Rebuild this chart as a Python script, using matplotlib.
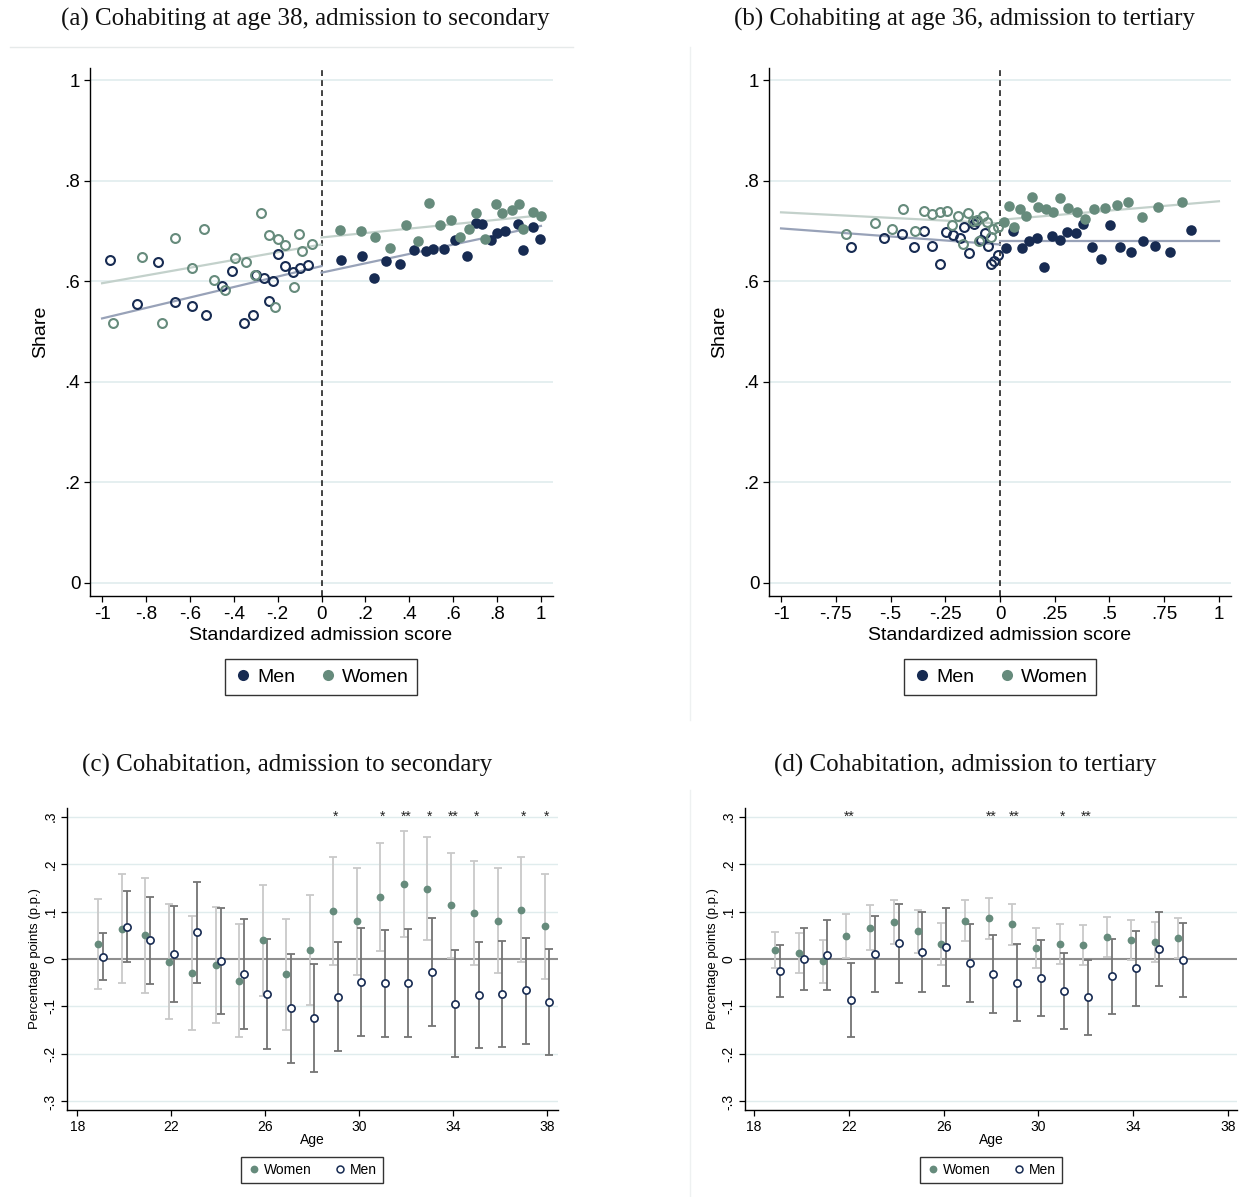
import matplotlib
matplotlib.use("Agg")
import matplotlib.pyplot as plt
from matplotlib.lines import Line2D
import numpy as np

# ---------------- data ----------------
# Panel (a): binned means, cohabiting at 38, secondary admission
a_women_left_x = [-0.948, -0.817, -0.726, -0.668, -0.591, -0.534, -0.491, -0.442, -0.392, -0.345,
                  -0.302, -0.275, -0.240, -0.213, -0.197, -0.167, -0.125, -0.102, -0.088, -0.043]
a_women_left_y = [0.516, 0.649, 0.516, 0.685, 0.627, 0.703, 0.602, 0.583, 0.647, 0.638,
                  0.612, 0.735, 0.692, 0.548, 0.683, 0.672, 0.589, 0.693, 0.660, 0.674]
a_men_left_x = [-0.963, -0.840, -0.743, -0.667, -0.588, -0.525, -0.452, -0.407, -0.351, -0.310,
                -0.298, -0.260, -0.238, -0.220, -0.197, -0.165, -0.129, -0.100, -0.061]
a_men_left_y = [0.642, 0.554, 0.638, 0.559, 0.551, 0.532, 0.590, 0.621, 0.516, 0.532,
                0.612, 0.607, 0.560, 0.600, 0.655, 0.631, 0.618, 0.626, 0.632]
a_women_right_x = [0.084, 0.181, 0.245, 0.310, 0.384, 0.442, 0.492, 0.538, 0.589, 0.629,
                   0.670, 0.705, 0.744, 0.793, 0.822, 0.869, 0.899, 0.917, 0.964, 0.999]
a_women_right_y = [0.702, 0.700, 0.688, 0.666, 0.711, 0.679, 0.755, 0.712, 0.721, 0.687,
                   0.704, 0.736, 0.684, 0.753, 0.736, 0.741, 0.753, 0.704, 0.738, 0.730]
a_men_right_x = [0.090, 0.184, 0.241, 0.293, 0.357, 0.421, 0.474, 0.507, 0.559, 0.609,
                 0.661, 0.705, 0.730, 0.773, 0.802, 0.838, 0.896, 0.917, 0.966, 0.998]
a_men_right_y = [0.642, 0.651, 0.606, 0.640, 0.634, 0.662, 0.661, 0.665, 0.664, 0.681,
                 0.651, 0.716, 0.714, 0.682, 0.696, 0.700, 0.713, 0.662, 0.708, 0.683]
# linear fits (intercept at cutoff, slope)
a_fit_women_left = (0.673, 0.077)
a_fit_men_left = (0.630, 0.104)
a_fit_women_right = (0.687, 0.044)
a_fit_men_right = (0.617, 0.093)

# Panel (b): cohabiting at 36, tertiary admission
b_women_left_x = [-0.703, -0.571, -0.495, -0.441, -0.388, -0.347, -0.309, -0.274, -0.244, -0.218,
                  -0.190, -0.167, -0.145, -0.122, -0.104, -0.094, -0.079, -0.058, -0.043, -0.030, -0.009]
b_women_left_y = [0.694, 0.716, 0.704, 0.743, 0.699, 0.739, 0.734, 0.737, 0.739, 0.712,
                  0.730, 0.674, 0.735, 0.719, 0.722, 0.679, 0.730, 0.717, 0.687, 0.704, 0.708]
b_men_left_x = [-0.682, -0.528, -0.449, -0.394, -0.348, -0.309, -0.275, -0.247, -0.213, -0.183,
                -0.163, -0.142, -0.120, -0.111, -0.088, -0.068, -0.053, -0.043, -0.027, -0.009]
b_men_left_y = [0.669, 0.685, 0.694, 0.669, 0.700, 0.671, 0.634, 0.698, 0.692, 0.686,
                0.708, 0.656, 0.714, 0.720, 0.681, 0.696, 0.671, 0.634, 0.641, 0.652]
b_women_right_x = [0.020, 0.041, 0.065, 0.091, 0.117, 0.145, 0.175, 0.209, 0.240, 0.274,
                   0.312, 0.350, 0.388, 0.431, 0.479, 0.536, 0.586, 0.650, 0.723, 0.831]
b_women_right_y = [0.717, 0.750, 0.708, 0.743, 0.730, 0.768, 0.747, 0.743, 0.738, 0.765,
                   0.745, 0.737, 0.724, 0.743, 0.745, 0.751, 0.757, 0.727, 0.748, 0.757]
b_men_right_x = [0.027, 0.061, 0.099, 0.134, 0.167, 0.201, 0.236, 0.274, 0.307, 0.347,
                 0.381, 0.419, 0.460, 0.502, 0.548, 0.597, 0.651, 0.709, 0.776, 0.871]
b_men_right_y = [0.666, 0.700, 0.667, 0.679, 0.685, 0.629, 0.690, 0.681, 0.698, 0.695,
                 0.714, 0.669, 0.645, 0.712, 0.669, 0.659, 0.679, 0.670, 0.658, 0.702]
b_fit_women_left = (0.715, -0.022)
b_fit_men_left = (0.673, -0.032)
b_fit_women_right = (0.722, 0.037)
b_fit_men_right = (0.679, 0.000)

# Panel (c): estimates by age, secondary
c_ages = [19, 20, 21, 22, 23, 24, 25, 26, 27, 28, 29, 30, 31, 32, 33, 34, 35, 36, 37, 38]
c_women = [0.032, 0.064, 0.050, -0.006, -0.030, -0.013, -0.046, 0.040, -0.032, 0.018,
           0.101, 0.079, 0.131, 0.158, 0.148, 0.114, 0.096, 0.081, 0.104, 0.069]
c_women_lo = [-0.064, -0.050, -0.071, -0.127, -0.150, -0.134, -0.165, -0.078, -0.149, -0.097,
              -0.013, -0.034, 0.017, 0.047, 0.039, 0.003, -0.013, -0.029, -0.007, -0.043]
c_women_hi = [0.127, 0.178, 0.171, 0.116, 0.090, 0.110, 0.073, 0.156, 0.085, 0.134,
              0.215, 0.192, 0.245, 0.270, 0.257, 0.224, 0.206, 0.192, 0.215, 0.180]
c_men = [0.005, 0.068, 0.039, 0.011, 0.056, -0.004, -0.032, -0.073, -0.103, -0.124,
         -0.079, -0.048, -0.051, -0.050, -0.028, -0.094, -0.076, -0.074, -0.066, -0.090]
c_men_lo = [-0.045, -0.007, -0.053, -0.090, -0.051, -0.116, -0.148, -0.189, -0.219, -0.238,
            -0.193, -0.162, -0.164, -0.164, -0.142, -0.207, -0.187, -0.186, -0.178, -0.202]
c_men_hi = [0.054, 0.143, 0.131, 0.112, 0.163, 0.108, 0.085, 0.043, 0.011, -0.010,
            0.036, 0.066, 0.062, 0.064, 0.086, 0.019, 0.036, 0.038, 0.045, 0.022]
c_star_ages = [29, 31, 32, 33, 34, 35, 37, 38]
c_star_labels = ["*", "*", "**", "*", "**", "*", "*", "*"]

# Panel (d): estimates by age, tertiary
d_ages = [19, 20, 21, 22, 23, 24, 25, 26, 27, 28, 29, 30, 31, 32, 33, 34, 35, 36]
d_women = [0.019, 0.012, -0.005, 0.049, 0.066, 0.078, 0.058, 0.031, 0.081, 0.086,
           0.073, 0.023, 0.032, 0.029, 0.046, 0.041, 0.036, 0.045]
d_women_lo = [-0.020, -0.030, -0.050, 0.003, 0.020, 0.031, 0.012, -0.013, 0.037, 0.043,
              0.030, -0.020, -0.010, -0.013, 0.005, -0.003, -0.007, 0.003]
d_women_hi = [0.057, 0.055, 0.041, 0.095, 0.113, 0.125, 0.104, 0.076, 0.125, 0.129,
              0.116, 0.066, 0.074, 0.071, 0.088, 0.083, 0.078, 0.087]
d_men = [-0.025, 0.001, 0.008, -0.086, 0.010, 0.033, 0.015, 0.026, -0.008, -0.031,
         -0.050, -0.040, -0.067, -0.081, -0.036, -0.020, 0.021, -0.003]
d_men_lo = [-0.080, -0.065, -0.065, -0.164, -0.070, -0.050, -0.069, -0.057, -0.091, -0.113,
            -0.131, -0.120, -0.147, -0.160, -0.115, -0.098, -0.057, -0.080]
d_men_hi = [0.029, 0.066, 0.083, -0.008, 0.091, 0.115, 0.099, 0.108, 0.074, 0.051,
            0.031, 0.041, 0.013, -0.002, 0.043, 0.060, 0.100, 0.076]
d_star_ages = [22, 28, 29, 31, 32]
d_star_labels = ["**", "**", "**", "*", "**"]

titles = ["(a) Cohabiting at age 38, admission to secondary",
          "(b) Cohabiting at age 36, admission to tertiary",
          "(c) Cohabitation, admission to secondary",
          "(d) Cohabitation, admission to tertiary"]
ab_xticks_a = [-1, -0.8, -0.6, -0.4, -0.2, 0, 0.2, 0.4, 0.6, 0.8, 1]
ab_xticklabels_a = ["-1", "-.8", "-.6", "-.4", "-.2", "0", ".2", ".4", ".6", ".8", "1"]
ab_xticks_b = [-1, -0.75, -0.5, -0.25, 0, 0.25, 0.5, 0.75, 1]
ab_xticklabels_b = ["-1", "-.75", "-.5", "-.25", "0", ".25", ".5", ".75", "1"]
ab_yticks = [0, 0.2, 0.4, 0.6, 0.8, 1]
ab_yticklabels = ["0", ".2", ".4", ".6", ".8", "1"]
cd_yticks = [-0.3, -0.2, -0.1, 0, 0.1, 0.2, 0.3]
cd_yticklabels = ["-.3", "-.2", "-.1", "0", ".1", ".2", ".3"]
cd_xticks = [18, 22, 26, 30, 34, 38]

# ---------------- style ----------------
NAVY = "#172b52"
GREEN = "#668b7c"
FIT_W = "#c3d1cb"
FIT_M = "#98a2b8"
GRID = "#e0eced"
CI_W = "#c9c9c9"
CI_M = "#747474"
SANS = "Liberation Sans"
SERIF = "Liberation Serif"

W, H = 1239, 1197
fig = plt.figure(figsize=(W / 100, H / 100), dpi=100)
fig.patch.set_facecolor("white")


def add_ax(l, t, r, b):
    return fig.add_axes([l / W, 1 - b / H, (r - l) / W, (b - t) / H])


def style_axes(ax, fs):
    for s in ["top", "right"]:
        ax.spines[s].set_visible(False)
    for s in ["left", "bottom"]:
        ax.spines[s].set_linewidth(1.0)
        ax.spines[s].set_color("black")
    ax.tick_params(direction="out", length=4, width=0.9, labelsize=fs, pad=3)
    for lab in ax.get_xticklabels() + ax.get_yticklabels():
        lab.set_fontfamily(SANS)


# light separator lines of the graph regions
fig.add_artist(Line2D([10 / W, 573 / W], [1 - 47 / H, 1 - 47 / H], color="#e6eaea", lw=1))
fig.add_artist(Line2D([690 / W, 690 / W], [1 - 47 / H, 1 - 720 / H], color="#eef1f1", lw=1))
fig.add_artist(Line2D([690 / W, 690 / W], [1 - 790 / H, 0], color="#eef1f1", lw=1))


def scatter_panel(ax, wl, ml, wr, mr, fits, xticks, xticklabels):
    ax.set_xlim(-1.055, 1.055)
    ax.set_ylim(-0.026, 1.024)
    ax.set_yticks(ab_yticks)
    ax.set_yticklabels(ab_yticklabels)
    ax.set_xticks(xticks)
    ax.set_xticklabels(xticklabels)
    for yv in ab_yticks:
        ax.axhline(yv, color=GRID, lw=1.2, zorder=0)
    ax.axvline(0, color="#222222", lw=1.2, ls=(0, (3.5, 2.5)), zorder=1)
    fw_l, fm_l, fw_r, fm_r = fits
    xl = np.array([-1.0, 0.0])
    xr = np.array([0.0, 1.0])
    ax.plot(xl, fw_l[0] + fw_l[1] * xl, color=FIT_W, lw=1.6, zorder=2)
    ax.plot(xl, fm_l[0] + fm_l[1] * xl, color=FIT_M, lw=1.6, zorder=2)
    ax.plot(xr, fw_r[0] + fw_r[1] * xr, color=FIT_W, lw=1.6, zorder=2)
    ax.plot(xr, fm_r[0] + fm_r[1] * xr, color=FIT_M, lw=1.6, zorder=2)
    ms = 7.6
    ax.plot(ml[0], ml[1], "o", ms=ms - 1.2, mfc="none", mec=NAVY, mew=1.5, ls="none", zorder=3)
    ax.plot(wl[0], wl[1], "o", ms=ms - 1.2, mfc="none", mec=GREEN, mew=1.5, ls="none", zorder=3)
    ax.plot(mr[0], mr[1], "o", ms=ms, mfc=NAVY, mec=NAVY, mew=0, ls="none", zorder=3)
    ax.plot(wr[0], wr[1], "o", ms=ms, mfc=GREEN, mec=GREEN, mew=0, ls="none", zorder=3)
    style_axes(ax, 13.5)
    handles = [Line2D([], [], marker="o", ls="none", ms=8, mfc=NAVY, mec=NAVY, mew=0),
               Line2D([], [], marker="o", ls="none", ms=8, mfc=GREEN, mec=GREEN, mew=0)]
    return handles


# Panel (a)
axa = add_ax(90, 68, 553, 596)
ha = scatter_panel(axa, (a_women_left_x, a_women_left_y), (a_men_left_x, a_men_left_y),
                   (a_women_right_x, a_women_right_y), (a_men_right_x, a_men_right_y),
                   (a_fit_women_left, a_fit_men_left, a_fit_women_right, a_fit_men_right),
                   ab_xticks_a, ab_xticklabels_a)
# Panel (b)
axb = add_ax(769, 68, 1231, 596)
hb = scatter_panel(axb, (b_women_left_x, b_women_left_y), (b_men_left_x, b_men_left_y),
                   (b_women_right_x, b_women_right_y), (b_men_right_x, b_men_right_y),
                   (b_fit_women_left, b_fit_men_left, b_fit_women_right, b_fit_men_right),
                   ab_xticks_b, ab_xticklabels_b)

for ax, hnd, cx in [(axa, ha, 321), (axb, hb, 1000)]:
    leg = fig.legend(hnd, ["Men", "Women"], loc="center", bbox_to_anchor=(cx / W, 1 - 677 / H),
                     ncol=2, frameon=True, fancybox=False, edgecolor="black",
                     prop={"family": SANS, "size": 14}, handletextpad=0.2,
                     columnspacing=1.2, borderpad=0.45, handlelength=1.0)
    leg.get_frame().set_linewidth(1.0)
    fig.text(cx / W, 1 - 636 / H, "Standardized admission score", ha="center", va="center",
             fontsize=14, family=SANS)

fig.text(41 / W, 1 - 332 / H, "Share", rotation=90, ha="center", va="center", fontsize=14, family=SANS)
fig.text(720 / W, 1 - 332 / H, "Share", rotation=90, ha="center", va="center", fontsize=14, family=SANS)


def coef_panel(ax, ages, w, wlo, whi, m, mlo, mhi, star_ages, star_labels, xlim):
    ages = np.array(ages, dtype=float)
    w, wlo, whi = map(np.array, (w, wlo, whi))
    m, mlo, mhi = map(np.array, (m, mlo, mhi))
    ax.set_xlim(*xlim)
    ax.set_ylim(-0.318, 0.318)
    ax.set_yticks(cd_yticks)
    ax.set_yticklabels(cd_yticklabels)
    ax.set_xticks(cd_xticks)
    for yv in cd_yticks:
        if yv != 0:
            ax.axhline(yv, color=GRID, lw=1.0, zorder=0)
    ax.axhline(0, color="#8f8f8f", lw=1.5, zorder=1)
    xw = ages - 0.1
    xm = ages + 0.1
    ax.errorbar(xw, w, yerr=[w - wlo, whi - w], fmt="none", ecolor=CI_W, elinewidth=1.3,
                capsize=3.2, capthick=1.3, zorder=2)
    ax.errorbar(xm, m, yerr=[m - mlo, mhi - m], fmt="none", ecolor=CI_M, elinewidth=1.3,
                capsize=3.2, capthick=1.3, zorder=2)
    ax.plot(xw, w, "o", ms=5.6, mfc=GREEN, mec=GREEN, mew=0, ls="none", zorder=3)
    ax.plot(xm, m, "o", ms=5.2, mfc="white", mec=NAVY, mew=1.2, ls="none", zorder=3)
    for a, s in zip(star_ages, star_labels):
        ax.text(a, 0.299, s, ha="center", va="center", fontsize=10, family=SANS, color="#222222")
    style_axes(ax, 10)
    ax.tick_params(axis="y", labelrotation=90)
    for lab in ax.get_yticklabels():
        lab.set_va("center")
    handles = [Line2D([], [], marker="o", ls="none", ms=5.6, mfc=GREEN, mec=GREEN, mew=0),
               Line2D([], [], marker="o", ls="none", ms=5.0, mfc="white", mec=NAVY, mew=1.1)]
    return handles


axc = add_ax(67, 808, 558, 1110)
hc = coef_panel(axc, c_ages, c_women, c_women_lo, c_women_hi, c_men, c_men_lo, c_men_hi,
                c_star_ages, c_star_labels, (17.561, 38.472))
axd = add_ax(745, 808, 1237, 1110)
hd = coef_panel(axd, d_ages, d_women, d_women_lo, d_women_hi, d_men, d_men_lo, d_men_hi,
                d_star_ages, d_star_labels, (17.62, 38.38))

for hnd, cx, ycx in [(hc, 312, 35), (hd, 991, 713)]:
    leg = fig.legend(hnd, ["Women", "Men"], loc="center", bbox_to_anchor=(cx / W, 1 - 1170 / H),
                     ncol=2, frameon=True, fancybox=False, edgecolor="black",
                     prop={"family": SANS, "size": 10}, handletextpad=0.2,
                     columnspacing=1.6, borderpad=0.4, handlelength=1.0)
    leg.get_frame().set_linewidth(1.0)
    fig.text(cx / W, 1 - 1140 / H, "Age", ha="center", va="center", fontsize=10, family=SANS)
    fig.text(ycx / W, 1 - 959 / H, "Percentage points (p.p.)", rotation=90, ha="center",
             va="center", fontsize=9.5, family=SANS)

# titles
for t, (cx, cy) in zip(titles, [(305, 19), (965, 19), (287, 765), (965, 765)]):
    fig.text(cx / W, 1 - cy / H, t, ha="center", va="center", fontsize=18, family=SERIF,
             color="#111111")

fig.savefig("out.png", dpi=100, facecolor="white")
